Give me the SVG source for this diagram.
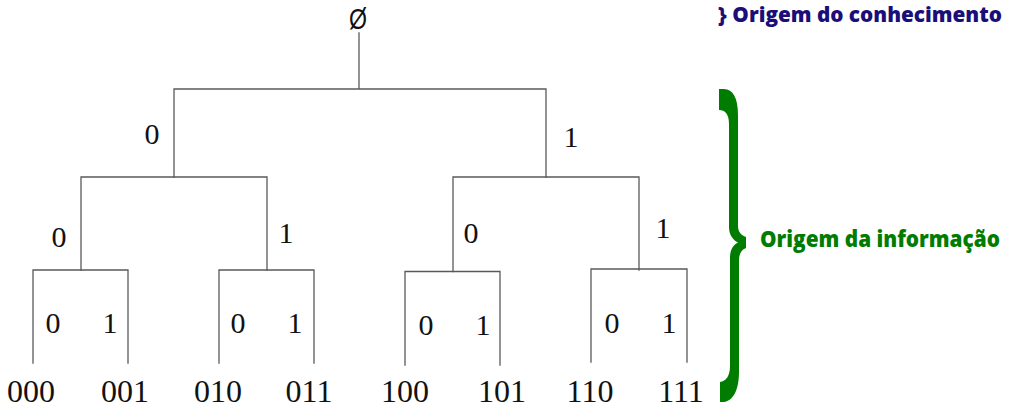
<svg xmlns="http://www.w3.org/2000/svg" width="1024" height="410" viewBox="0 0 1024 410">
<style>
.ln{stroke:#5a5a5a;stroke-width:1.3;fill:none;stroke-linecap:square}
.bit{font-family:"Liberation Serif","Times New Roman",serif;font-size:30px;fill:#111;text-anchor:middle}
.leaf{font-family:"Liberation Serif","Times New Roman",serif;font-size:32px;fill:#111;text-anchor:middle}
.lbl{font-family:"Open Sans","Noto Sans","Liberation Sans",sans-serif;font-weight:800}
</style>
<rect width="1024" height="410" fill="#fff"/>
<g id="connectors">
<path class="ln" d="M359,33V89M174,89H546M174,89V177M546,89V177"/>
<path class="ln" d="M81,177H267M81,177V270M267,177V270M453,177H639M453,177V271.5M639,177V270"/>
<path class="ln" d="M33,363V270H128V363"/>
<path class="ln" d="M219,363V270H314V363"/>
<path class="ln" d="M405,365V271.5H500V365"/>
<path class="ln" d="M591,362V269H687V362"/>
</g>
<g id="root"><text x="358" y="29" font-family="Liberation Sans, Arial, sans-serif" font-size="29" fill="#111" text-anchor="middle" textLength="18" lengthAdjust="spacingAndGlyphs">Ø</text></g>
<g id="edge-labels">
<text class="bit" x="152" y="144">0</text>
<text class="bit" x="571" y="147">1</text>
<text class="bit" x="59" y="247">0</text>
<text class="bit" x="286" y="243">1</text>
<text class="bit" x="471" y="243">0</text>
<text class="bit" x="663" y="238">1</text>
<text class="bit" x="53" y="333">0</text>
<text class="bit" x="110" y="333">1</text>
<text class="bit" x="238" y="333">0</text>
<text class="bit" x="295" y="333">1</text>
<text class="bit" x="426" y="335">0</text>
<text class="bit" x="483" y="335">1</text>
<text class="bit" x="612" y="333">0</text>
<text class="bit" x="669" y="333">1</text>
</g>
<g id="leaf-000"><text class="leaf" x="31" y="402">000</text></g>
<g id="leaf-001"><text class="leaf" x="125" y="402">001</text></g>
<g id="leaf-010"><text class="leaf" x="218" y="402">010</text></g>
<g id="leaf-011"><text class="leaf" x="309" y="402">011</text></g>
<g id="leaf-100"><text class="leaf" x="405" y="402">100</text></g>
<g id="leaf-101"><text class="leaf" x="502" y="402">101</text></g>
<g id="leaf-110"><text class="leaf" x="590" y="402">110</text></g>
<g id="leaf-111"><text class="leaf" x="681" y="402">111</text></g>
<g id="origem-conhecimento"><text class="lbl" x="718" y="22" font-size="21" fill="#1a0e78" textLength="284" lengthAdjust="spacingAndGlyphs">} Origem do conhecimento</text></g>
<g id="origem-informacao">
<path fill="#007d00" d="M719,89 L724,89 C733,89 738,98 738,115 L738,226 C738,232 741,235 746,237 L746,248 C741,250 739,254 739,261 L739,372 C739,392 732,401 724,402 L720,402 L720,382 C726,381 730,376 730,366 L730,258 C730,250 733,245 738,242.5 C733,240 729,235 729,227 L729,124 C729,114 725,110 719,110 Z"/>
<text class="lbl" x="760" y="247" font-size="23" fill="#007d00" textLength="240" lengthAdjust="spacingAndGlyphs">Origem da informação</text>
</g>
</svg>
